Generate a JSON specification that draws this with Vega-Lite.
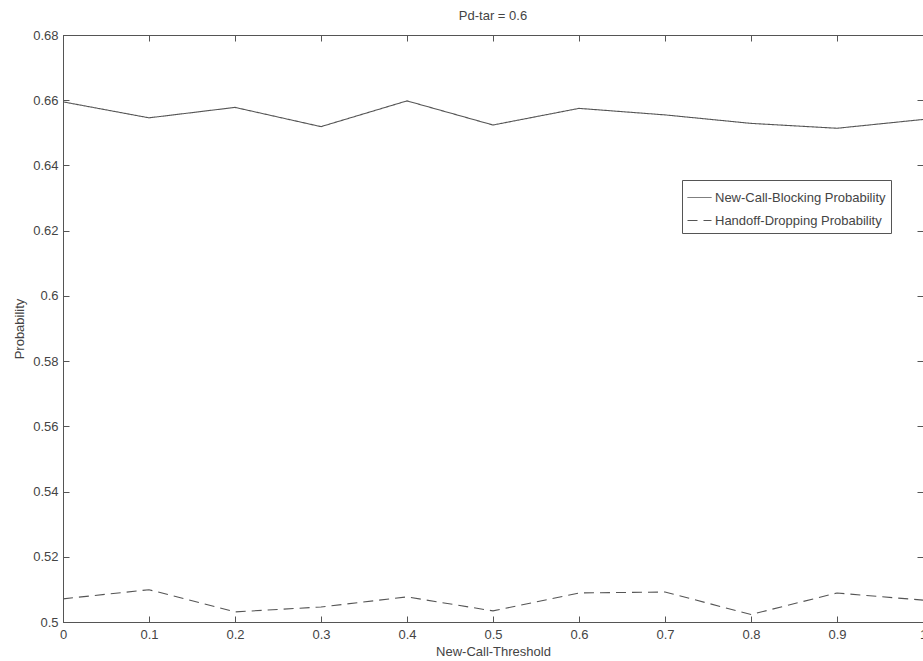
{
  "$schema": "https://vega.github.io/schema/vega-lite/v6.json",
  "width": 860,
  "height": 587,
  "autosize": {"type": "none"},
  "padding": {"left": 63, "top": 35, "right": 0, "bottom": 39},
  "background": "white",
  "title": {"text": "Pd-tar = 0.6", "fontSize": 13, "fontWeight": "normal", "font": "Liberation Sans", "color": "#444", "offset": 6},
  "config": {
    "view": {"stroke": "#555", "strokeWidth": 1},
    "font": "Liberation Sans",
    "axis": {"domainColor": "#555", "tickColor": "#555", "labelColor": "#444", "titleColor": "#444", "labelFontSize": 13, "titleFontSize": 13, "titleFontWeight": "normal", "grid": false}
  },
  "data": {"values": [
    {"t": 0.0, "series": "New-Call-Blocking Probability", "p": 0.6595},
    {"t": 0.1, "series": "New-Call-Blocking Probability", "p": 0.6546},
    {"t": 0.2, "series": "New-Call-Blocking Probability", "p": 0.6578},
    {"t": 0.3, "series": "New-Call-Blocking Probability", "p": 0.6519},
    {"t": 0.4, "series": "New-Call-Blocking Probability", "p": 0.6598},
    {"t": 0.5, "series": "New-Call-Blocking Probability", "p": 0.6524},
    {"t": 0.6, "series": "New-Call-Blocking Probability", "p": 0.6575},
    {"t": 0.7, "series": "New-Call-Blocking Probability", "p": 0.6555},
    {"t": 0.8, "series": "New-Call-Blocking Probability", "p": 0.6529},
    {"t": 0.9, "series": "New-Call-Blocking Probability", "p": 0.6514},
    {"t": 1.0, "series": "New-Call-Blocking Probability", "p": 0.6541},
    {"t": 0.0, "series": "Handoff-Dropping Probability", "p": 0.5071},
    {"t": 0.1, "series": "Handoff-Dropping Probability", "p": 0.5099},
    {"t": 0.2, "series": "Handoff-Dropping Probability", "p": 0.5031},
    {"t": 0.3, "series": "Handoff-Dropping Probability", "p": 0.5046},
    {"t": 0.4, "series": "Handoff-Dropping Probability", "p": 0.5077},
    {"t": 0.5, "series": "Handoff-Dropping Probability", "p": 0.5034},
    {"t": 0.6, "series": "Handoff-Dropping Probability", "p": 0.5089},
    {"t": 0.7, "series": "Handoff-Dropping Probability", "p": 0.5092},
    {"t": 0.8, "series": "Handoff-Dropping Probability", "p": 0.5023},
    {"t": 0.9, "series": "Handoff-Dropping Probability", "p": 0.5089},
    {"t": 1.0, "series": "Handoff-Dropping Probability", "p": 0.5067}
  ]},
  "layer": [
    {
      "mark": {"type": "line", "strokeWidth": 1.1},
      "encoding": {
        "x": {"field": "t", "type": "quantitative", "scale": {"domain": [0, 1], "nice": false, "zero": false},
              "axis": {"orient": "bottom", "title": "New-Call-Threshold", "values": [0,0.1,0.2,0.3,0.4,0.5,0.6,0.7,0.8,0.9,1], "format": "~g", "tickSize": -6, "labelPadding": 12, "titlePadding": 4, "labelFlush": false}},
        "y": {"field": "p", "type": "quantitative", "scale": {"domain": [0.5, 0.68], "nice": false, "zero": false},
              "axis": {"orient": "left", "title": "Probability", "values": [0.5,0.52,0.54,0.56,0.58,0.6,0.62,0.64,0.66,0.68], "format": "~g", "tickSize": -6, "labelPadding": 11, "titlePadding": 6, "labelFlush": false}},
        "color": {"field": "series", "type": "nominal", "scale": {"domain": ["New-Call-Blocking Probability", "Handoff-Dropping Probability"], "range": ["#555", "#555"]},
                  "legend": {"title": null, "orient": "none", "legendX": 619, "legendY": 145, "strokeColor": "#555", "fillColor": "white", "padding": 5, "labelFontSize": 13, "labelColor": "#444", "labelLimit": 400, "symbolType": "stroke", "symbolSize": 576, "symbolStrokeWidth": 1, "labelOffset": 3, "rowPadding": 3}},
        "strokeDash": {"field": "series", "type": "nominal", "scale": {"domain": ["New-Call-Blocking Probability", "Handoff-Dropping Probability"], "range": [[1, 0], [10, 6]]},
                  "legend": {"title": null, "orient": "none", "legendX": 619, "legendY": 145}}
      }
    },
    {
      "mark": {"type": "line", "strokeOpacity": 0},
      "encoding": {
        "x": {"field": "t", "type": "quantitative", "axis": {"orient": "top", "title": null, "labels": false, "values": [0,0.1,0.2,0.3,0.4,0.5,0.6,0.7,0.8,0.9,1], "tickSize": -6}},
        "y": {"field": "p", "type": "quantitative", "axis": {"orient": "right", "title": null, "labels": false, "values": [0.5,0.52,0.54,0.56,0.58,0.6,0.62,0.64,0.66,0.68], "tickSize": -6}}
      }
    }
  ],
  "resolve": {"axis": {"x": "independent", "y": "independent"}}
}
